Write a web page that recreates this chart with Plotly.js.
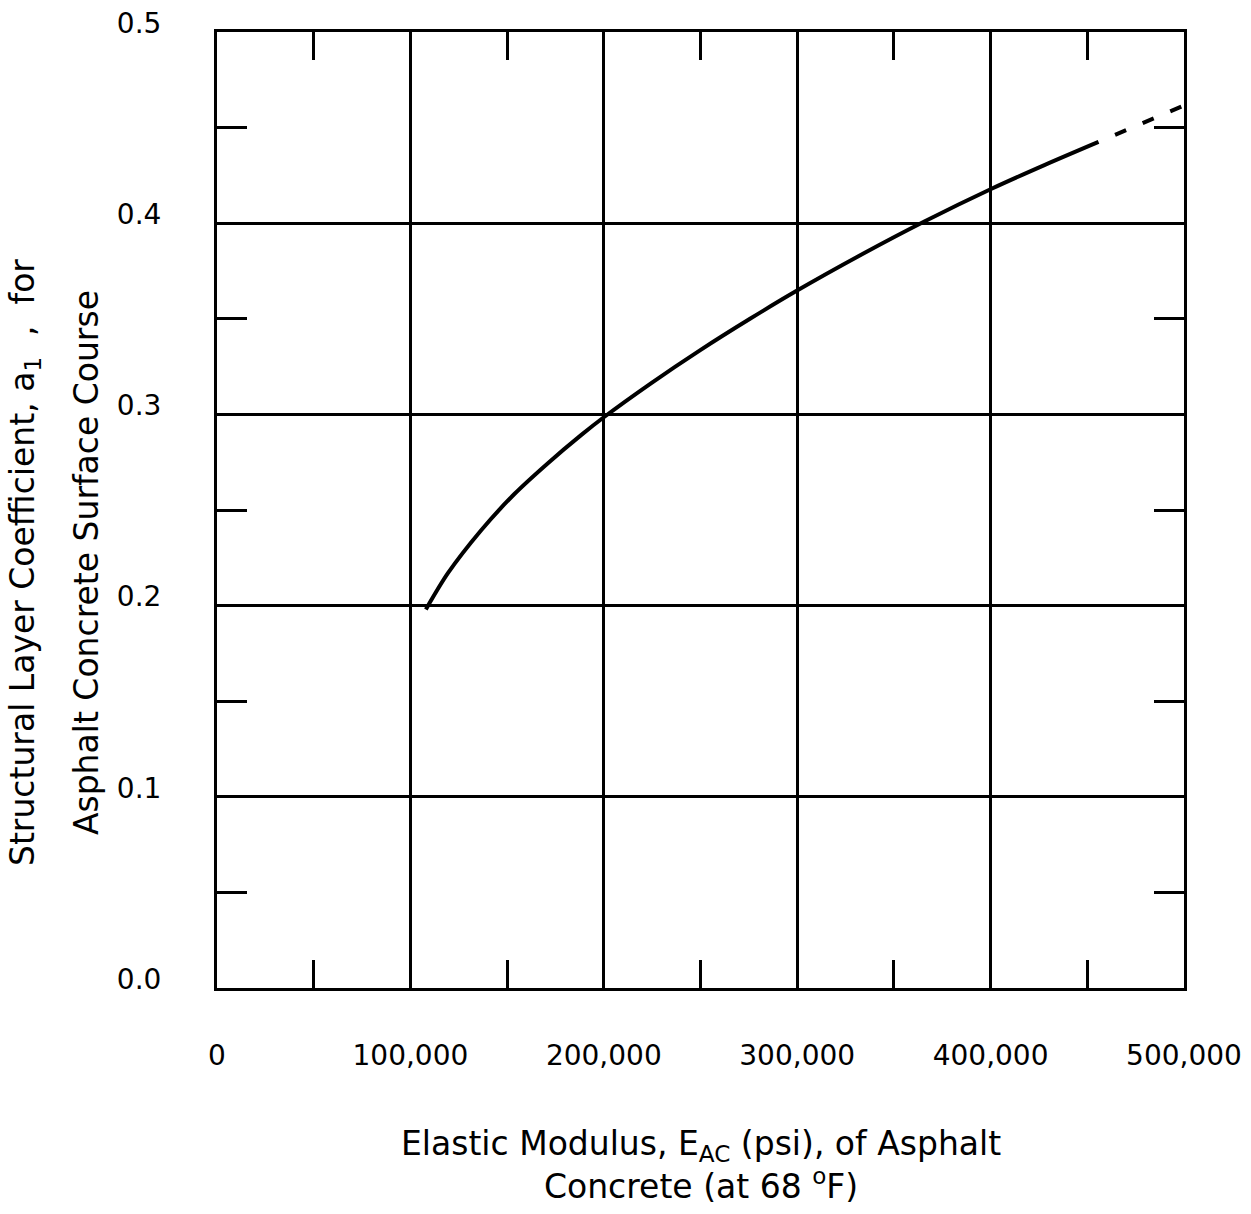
<!DOCTYPE html>
<html>
<head>
<meta charset="utf-8">
<script src="https://cdn.plot.ly/plotly-3.0.1.min.js"></script>
<style>
  html, body { margin: 0; padding: 0; background: #ffffff; }
  #chart { width: 1251px; height: 1214px; }
</style>
</head>
<body>
<div id="chart"></div>
<script>
// Elastic modulus E_AC (psi) and structural layer coefficient a1 — solid part of curve
var modulusSolid = [108000, 119300, 136600, 153900, 171100, 188400, 200000, 224000, 249700, 275600, 299500, 334000, 366000, 400500, 428100, 455800];
var coeffSolid   = [0.198, 0.2168, 0.2394, 0.2585, 0.2745, 0.2893, 0.2985, 0.3160, 0.3335, 0.3500, 0.3645, 0.3840, 0.4010, 0.4180, 0.4305, 0.4425];
// Dashed extrapolation
var modulusDashed = [455800, 500000];
var coeffDashed   = [0.4425, 0.4616];
// Axis ticks
var xMajorTicks = [0, 100000, 200000, 300000, 400000, 500000];
var xMinorTicks = [50000, 150000, 250000, 350000, 450000];
var yMajorTicks = [0.0, 0.1, 0.2, 0.3, 0.4, 0.5];
var yMinorTicks = [0.05, 0.15, 0.25, 0.35, 0.45];
// Titles
var xTitleText = 'Elastic Modulus, E<sub>AC</sub> (psi), of Asphalt<br>Concrete (at 68 <sup>o</sup>F)';
var yTitleLine1 = 'Structural Layer Coefficient, a<sub>1</sub>&nbsp;&nbsp;,&nbsp;&nbsp;for';
var yTitleLine2 = 'Asphalt Concrete Surface Course';

var FONT = 'DejaVu Sans, Liberation Sans, Arial, sans-serif';

var traces = [
  {
    x: modulusSolid, y: coeffSolid, type: 'scatter', mode: 'lines',
    line: { color: '#000000', width: 4, shape: 'spline', smoothing: 0.8 },
    hoverinfo: 'skip', showlegend: false
  },
  {
    x: modulusDashed, y: coeffDashed, type: 'scatter', mode: 'lines',
    line: { color: '#000000', width: 4, dash: '0px,18px,12px,0px' },
    hoverinfo: 'skip', showlegend: false
  },
  {
    // empty carrier trace so the overlay tick axes (minor ticks) are drawn
    x: [], y: [], xaxis: 'x2', yaxis: 'y2', type: 'scatter', mode: 'lines',
    hoverinfo: 'skip', showlegend: false
  }
];

var layout = {
  width: 1251, height: 1214,
  margin: { l: 217, r: 67, t: 32, b: 226 },
  paper_bgcolor: '#ffffff', plot_bgcolor: '#ffffff',
  font: { family: FONT, color: '#000000' },
  showlegend: false,
  xaxis: {
    range: [0, 500000], tickvals: xMajorTicks, tickformat: ',d',
    showgrid: true, gridcolor: '#000000', gridwidth: 3,
    showline: true, linecolor: '#000000', linewidth: 3, mirror: true,
    zeroline: false, ticks: '', tickfont: { family: FONT, size: 28, color: '#000000' },
    ticklabelstandoff: 40, automargin: false, fixedrange: true
  },
  xaxis2: {
    overlaying: 'x', side: 'bottom', range: [0, 500000], tickvals: xMinorTicks,
    showgrid: false, zeroline: false, showline: false, showticklabels: false,
    ticks: 'inside', ticklen: 28, tickwidth: 3, tickcolor: '#000000', mirror: 'ticks',
    automargin: false, fixedrange: true
  },
  yaxis: {
    range: [0, 0.5], tickvals: yMajorTicks, tickformat: '.1f',
    showgrid: true, gridcolor: '#000000', gridwidth: 3,
    showline: true, linecolor: '#000000', linewidth: 3, mirror: true,
    zeroline: false, ticks: '', tickfont: { family: FONT, size: 28, color: '#000000' },
    ticklabelstandoff: 47, ticklabelshift: -9, automargin: false, fixedrange: true
  },
  yaxis2: {
    overlaying: 'y', side: 'left', range: [0, 0.5], tickvals: yMinorTicks,
    showgrid: false, zeroline: false, showline: false, showticklabels: false,
    ticks: 'inside', ticklen: 30, tickwidth: 3, tickcolor: '#000000', mirror: 'ticks',
    automargin: false, fixedrange: true
  },
  annotations: [
    {
      text: xTitleText, xref: 'paper', yref: 'paper', x: 0.5, y: -0.185,
      xanchor: 'center', yanchor: 'middle', showarrow: false,
      font: { family: FONT, size: 33, color: '#000000' }
    },
    {
      text: yTitleLine1, xref: 'paper', yref: 'paper', x: -0.1985, y: 0.4446,
      xanchor: 'center', yanchor: 'middle', showarrow: false, textangle: -90,
      font: { family: FONT, size: 33, color: '#000000' }
    },
    {
      text: yTitleLine2, xref: 'paper', yref: 'paper', x: -0.1343, y: 0.4446,
      xanchor: 'center', yanchor: 'middle', showarrow: false, textangle: -90,
      font: { family: FONT, size: 33, color: '#000000' }
    }
  ]
};

Plotly.newPlot('chart', traces, layout, { staticPlot: true, displayModeBar: false });
</script>
</body>
</html>
